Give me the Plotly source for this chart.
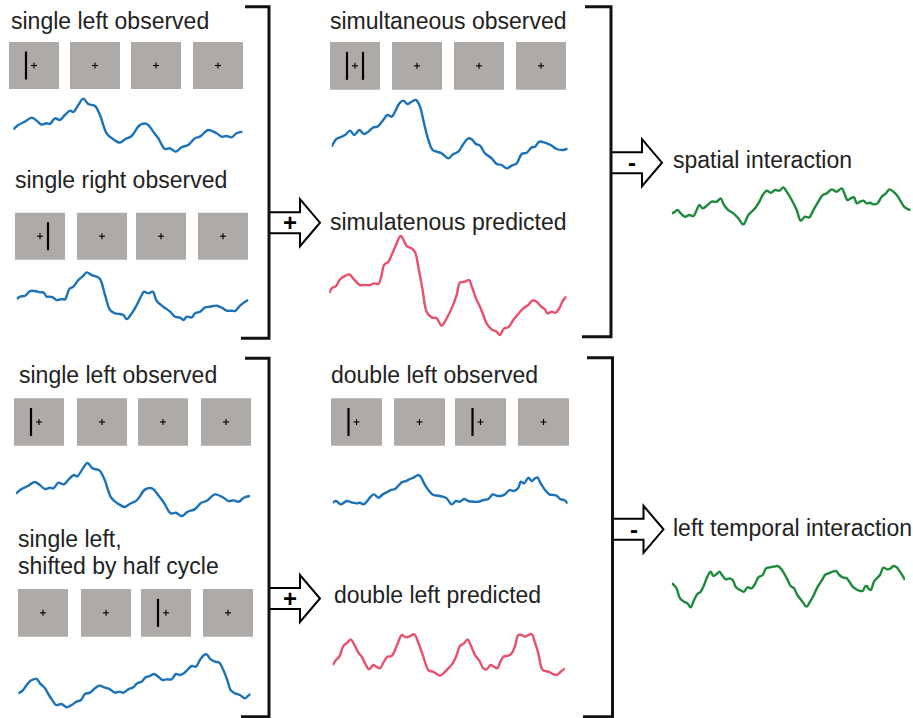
import plotly.graph_objects as go

W, H = 913, 718
FONT = "Liberation Sans, Arial, Helvetica, sans-serif"
TEXT_COLOR = "#222222"
BLUE, PINK, GREEN = "#1b72b8", "#e9506c", "#1d8a3b"
SQUARE_GRAY = "#aeaaa7"

# ---------------------------------------------------------------------------
# Stimulus sequences: one stimulation cycle = 4 frames.
# "L" = bar left of fixation, "R" = bar right of fixation, "" = fixation only
# ---------------------------------------------------------------------------
single_left_frames = ["L", "", "", ""]
single_right_frames = ["R", "", "", ""]
simultaneous_frames = ["LR", "", "", ""]
shifted_left_frames = ["", "", "L", ""]
double_left_frames = ["L", "", "L", ""]

# ---------------------------------------------------------------------------
# Responses over one cycle (time in samples, amplitude in arbitrary units)
# ---------------------------------------------------------------------------
single_left_t = [0, 15, 35, 55, 70, 85, 100, 110, 125, 140, 155, 170, 180, 195, 210, 225, 245, 260, 280, 300,
                 320, 335, 355, 380, 400, 420, 435, 455, 470, 487, 505, 525, 545, 560, 585, 610, 625, 640, 655,
                 670, 688]
single_left_v = [72, 85, 95, 107, 98, 86, 90, 88, 105, 100, 115, 128, 124, 145, 164, 148, 142, 115, 60, 42,
                 32, 42, 52, 85, 88, 65, 45, 13, 15, 5, 18, 25, 45, 50, 70, 60, 50, 52, 48, 60, 65]

single_right_t = [0, 10, 25, 40, 55, 70, 80, 90, 100, 110, 120, 135, 145, 158, 170, 185, 200, 210, 225, 240,
                  250, 265, 280, 295, 310, 320, 330, 345, 360, 375, 382, 395, 408, 420, 440, 460, 475, 490, 500,
                  510, 525, 535, 550, 565, 580, 600, 615, 630, 645, 655, 670, 685, 695]
single_right_v = [68, 75, 78, 92, 92, 88, 88, 75, 75, 72, 65, 68, 67, 98, 105, 125, 138, 148, 140, 135,
                  128, 80, 35, 25, 23, 20, 8, 25, 50, 80, 90, 85, 90, 62, 45, 30, 15, 12, 5, 15,
                  13, 25, 30, 43, 45, 48, 42, 33, 33, 32, 48, 60, 65]

simultaneous_obs_t = [0, 13, 25, 40, 55, 68, 83, 97, 110, 125, 137, 153, 167, 180, 190, 203, 215, 227, 240, 253,
                      265, 277, 290, 303, 315, 330, 350, 365, 380, 395, 410, 420, 433, 445, 460, 480, 495, 510,
                      525, 540, 555, 570, 585, 600, 610, 623, 640, 660, 675, 695, 708]
simultaneous_obs_v = [70, 92, 98, 105, 118, 105, 120, 108, 115, 128, 130, 148, 165, 160, 175, 200, 208, 198, 205,
                      210, 190, 140, 90, 60, 55, 50, 35, 48, 55, 78, 95, 92, 78, 73, 50, 35, 18, 15, 5, 13,
                      20, 48, 52, 68, 70, 85, 82, 73, 63, 60, 64]

simultaneous_pred_t = [0, 7, 20, 32, 47, 60, 74, 92, 107, 122, 134, 147, 157, 164, 177, 187, 200, 214, 224, 232,
                       247, 257, 267, 280, 292, 307, 322, 337, 352, 367, 382, 392, 407, 420, 427, 440, 452, 462,
                       472, 487, 502, 512, 524, 537, 552, 567, 582, 597, 609, 622, 634, 647, 654, 667, 679, 690,
                       702, 712]
simultaneous_pred_v = [130, 145, 152, 172, 182, 187, 172, 155, 155, 155, 160, 158, 185, 215, 225, 245, 275, 302,
                       288, 272, 265, 255, 210, 140, 75, 58, 55, 33, 55, 85, 125, 162, 165, 170, 152, 115, 90,
                       65, 40, 22, 15, 5, 25, 28, 50, 68, 85, 95, 108, 105, 92, 82, 70, 75, 72, 85, 110, 120]

spatial_int_t = [0, 7, 17, 27, 40, 53, 65, 75, 83, 93, 105, 120, 135, 147, 157, 170, 185, 200, 215, 230,
                 250, 263, 273, 285, 297, 310, 323, 335, 345, 360, 375, 387, 400, 413, 425, 440, 453, 465, 480,
                 495, 510, 520, 527, 537, 547, 555, 565, 575, 585, 595, 605, 617, 630, 643, 653, 665, 675, 685,
                 697, 710, 717]
spatial_int_v = [40, 43, 50, 40, 30, 35, 32, 50, 65, 55, 63, 75, 75, 85, 65, 50, 40, 25, 7, 35,
                 55, 75, 95, 108, 102, 110, 108, 118, 105, 80, 50, 18, 30, 28, 50, 75, 95, 100, 112, 105,
                 115, 95, 80, 85, 88, 70, 75, 78, 70, 72, 67, 70, 90, 100, 112, 105, 95, 80, 60, 52, 50]

shifted_left_t = [0, 13, 25, 37, 55, 65, 80, 90, 103, 113, 130, 145, 160, 175, 188, 200, 215, 230, 243, 260,
                  275, 290, 303, 315, 330, 345, 357, 370, 382, 395, 407, 420, 433, 445, 460, 473, 485, 497, 510,
                  520, 533, 545, 557, 565, 577, 590, 603, 615, 627, 637, 650, 665, 680, 690, 697]
shifted_left_v = [50, 58, 75, 88, 93, 80, 65, 48, 28, 15, 18, 8, 15, 25, 30, 48, 52, 65, 73, 67,
                  62, 52, 55, 52, 62, 68, 80, 85, 98, 102, 108, 100, 90, 92, 92, 108, 105, 110, 123, 132,
                  130, 150, 165, 167, 152, 145, 142, 120, 90, 60, 50, 45, 35, 43, 48]

double_obs_t = [0, 10, 24, 42, 57, 72, 82, 92, 102, 114, 124, 137, 150, 162, 174, 187, 197, 207, 220, 232,
                244, 257, 264, 274, 287, 302, 317, 330, 342, 357, 370, 382, 394, 407, 422, 437, 452, 467, 480,
                492, 507, 517, 530, 544, 557, 564, 574, 587, 597, 607, 614, 624, 637, 650, 662, 672, 682, 694,
                705]
double_obs_v = [12, 17, 7, 17, 13, 10, 12, 7, 15, 30, 37, 27, 37, 43, 50, 53, 63, 73, 77, 83,
                88, 95, 90, 70, 50, 35, 33, 30, 25, 7, 17, 15, 23, 17, 15, 15, 20, 23, 37, 33,
                33, 37, 50, 47, 57, 75, 70, 87, 77, 85, 88, 70, 50, 37, 35, 33, 23, 20, 10]

double_pred_t = [0, 10, 20, 32, 44, 54, 64, 77, 87, 97, 109, 122, 134, 142, 152, 164, 177, 187, 197, 207,
                 220, 232, 245, 257, 272, 287, 300, 312, 322, 332, 347, 360, 370, 382, 394, 405, 414, 427, 440,
                 452, 462, 474, 484, 494, 502, 512, 527, 537, 547, 557, 567, 577, 587, 597, 607, 617, 630, 647,
                 662, 672, 684, 697]
double_pred_v = [35, 50, 60, 92, 102, 112, 98, 72, 60, 40, 22, 35, 28, 25, 42, 60, 62, 80, 105, 125,
                 118, 122, 127, 102, 60, 20, 15, 8, 3, 10, 25, 40, 60, 92, 100, 112, 95, 65, 48, 25,
                 22, 35, 30, 25, 42, 60, 63, 70, 92, 125, 125, 120, 125, 128, 102, 70, 20, 15, 8, 5, 15, 25]

temporal_int_t = [0, 13, 25, 37, 47, 57, 67, 77, 87, 97, 107, 117, 125, 135, 143, 153, 163, 173, 183, 193,
                  205, 217, 227, 240, 250, 260, 273, 283, 295, 307, 317, 327, 337, 347, 357, 367, 377, 390, 405,
                  415, 425, 437, 450, 460, 470, 483, 493, 503, 513, 525, 533, 543, 553, 563, 573, 580, 585, 590,
                  597, 607, 615, 625, 635, 647, 657, 665, 675, 685, 700]
temporal_int_v = [80, 68, 35, 25, 20, 8, 30, 48, 55, 75, 100, 115, 102, 108, 115, 102, 92, 95, 90, 68,
                  60, 55, 68, 65, 78, 98, 105, 125, 128, 130, 132, 125, 110, 92, 72, 65, 45, 28, 10, 25,
                  42, 68, 88, 105, 110, 115, 117, 105, 98, 95, 85, 70, 63, 58, 57, 70, 72, 65, 60, 85,
                  95, 105, 127, 122, 125, 132, 128, 115, 90]

# Text labels
labels = [
    "single left observed", "single right observed", "simultaneous observed", "simulatenous predicted",
    "spatial interaction", "single left observed", "single left,", "shifted by half cycle",
    "double left observed", "double left predicted", "left temporal interaction",
]
signs = ["+", "-", "+", "-"]

# ---------------------------------------------------------------------------
# Layout helpers (pixel positions -> paper coordinates)
# ---------------------------------------------------------------------------
def px(x):
    return x / W


def py(y):
    return 1 - y / H


AMP_PER_PX = 3.0  # amplitude units per pixel, same for all traces

fig = go.Figure()
shapes, annotations = [], []
layout_axes = {}

trace_specs = [
    # (t, v, colour, left, baseline, width)
    (single_left_t, single_left_v, BLUE, 13.3, 153.3, 229.3),
    (single_right_t, single_right_v, BLUE, 16.7, 321.7, 231.7),
    (simultaneous_obs_t, simultaneous_obs_v, BLUE, 331.7, 170.0, 236.0),
    (simultaneous_pred_t, simultaneous_pred_v, PINK, 329.3, 336.7, 237.3),
    (spatial_int_t, spatial_int_v, GREEN, 671.7, 226.7, 239.0),
    (single_left_t, single_left_v, BLUE, 16.0, 517.7, 234.0),
    (shifted_left_t, shifted_left_v, BLUE, 18.3, 710.0, 232.3),
    (double_obs_t, double_obs_v, BLUE, 332.7, 506.7, 235.0),
    (double_pred_t, double_pred_v, PINK, 332.7, 676.7, 232.3),
    (temporal_int_t, temporal_int_v, GREEN, 671.7, 610.0, 233.3),
]

for i, (t, v, color, left, base, width) in enumerate(trace_specs, start=1):
    top_val = max(v) + 12
    height = top_val / AMP_PER_PX
    xa, ya = ("x" if i == 1 else f"x{i}"), ("y" if i == 1 else f"y{i}")
    fig.add_trace(go.Scatter(
        x=t, y=v, mode="lines", xaxis=xa, yaxis=ya,
        line=dict(color=color, width=2.4, shape="spline", smoothing=1.0),
        hoverinfo="skip", showlegend=False,
    ))
    kx = "xaxis" if i == 1 else f"xaxis{i}"
    ky = "yaxis" if i == 1 else f"yaxis{i}"
    layout_axes[kx] = dict(domain=[px(left), px(left + width)], range=[0, t[-1]], visible=False,
                           anchor=ya, fixedrange=True)
    layout_axes[ky] = dict(domain=[py(base), py(base - height)], range=[0, top_val], visible=False,
                           anchor=xa, fixedrange=True)

# ---------------------------------------------------------------------------
# Stimulus frames: grey squares with fixation cross and bars
# ---------------------------------------------------------------------------
frame_rows = [
    # (frames, square lefts, top, width, height)
    (single_left_frames, [9, 70, 131, 193], 42.0, 50, 47),
    (single_right_frames, [15, 77, 136, 198], 212.7, 50, 47),
    (simultaneous_frames, [330, 392, 454, 516], 42.0, 50, 47.7),
    (single_left_frames, [14, 77, 138, 201], 398.3, 50, 47.4),
    (shifted_left_frames, [18, 81, 141, 203], 589.0, 50, 47.7),
    (double_left_frames, [331, 394, 455, 518], 398.3, 51, 47.4),
]


def line(x0, y0, x1, y1, width, color="black"):
    return dict(type="line", xref="paper", yref="paper", x0=px(x0), y0=py(y0), x1=px(x1), y1=py(y1),
                line=dict(color=color, width=width), layer="above")


for frames, lefts, top, sw, sh in frame_rows:
    for frame, left in zip(frames, lefts):
        shapes.append(dict(type="rect", xref="paper", yref="paper", x0=px(left), x1=px(left + sw),
                           y0=py(top + sh), y1=py(top), fillcolor=SQUARE_GRAY, line=dict(width=0),
                           layer="below"))
        cx, cy = left + sw / 2, top + sh / 2
        shapes.append(line(cx - 3, cy, cx + 3, cy, 1.1))
        shapes.append(line(cx, cy - 3, cx, cy + 3, 1.1))
        if "L" in frame:
            shapes.append(line(cx - 8, cy - 14, cx - 8, cy + 14, 2.2))
        if "R" in frame:
            shapes.append(line(cx + 8, cy - 14, cx + 8, cy + 14, 2.2))


def path(points, closed=False):
    s = "M " + " L ".join(f"{px(x):.5f},{py(y):.5f}" for x, y in points)
    return s + (" Z" if closed else "")


# Block arrows (+ / -) leaving the brackets
arrow_specs = [(269, 222.7), (611, 162.7), (269, 598.5), (612.5, 529.3)]
for (xb, c), sign in zip(arrow_specs, signs):
    pts = [(xb, c - 10.5), (xb + 31, c - 10.5), (xb + 31, c - 23.5), (xb + 51, c),
           (xb + 31, c + 23.5), (xb + 31, c + 10.5), (xb, c + 10.5)]
    shapes.append(dict(type="path", xref="paper", yref="paper", path=path(pts, closed=True),
                       fillcolor="white", line=dict(color="black", width=2), layer="above"))
    annotations.append(dict(x=px(xb + 21), y=py(c), xref="paper", yref="paper", text=f"<b>{sign}</b>",
                            showarrow=False, xanchor="center", yanchor="middle",
                            font=dict(family=FONT, size=24, color="black")))

# Brackets
bracket_specs = [
    # (top-left x, top y, vertical x, bottom y, bottom-left x)
    (245, 6.7, 269, 338.3, 241),
    (585, 6.7, 611, 336.7, 582),
    (245, 358.3, 269, 716.7, 241),
    (587, 357.7, 612.5, 716.7, 583),
]
for xt, yt, xv, yb, xbm in bracket_specs:
    shapes.append(dict(type="path", xref="paper", yref="paper",
                       path=path([(xt, yt), (xv, yt), (xv, yb), (xbm, yb)]),
                       line=dict(color="#111111", width=3), layer="above"))

# Text labels (left edge, vertical centre)
label_pos = [
    (10, 21), (14, 179.7), (329.3, 21.3), (329.3, 222), (671.7, 159.7), (18, 375),
    (16.7, 538.7), (16.7, 566), (330, 375.3), (332.7, 595.3), (671.7, 528),
]
for text, (x, y) in zip(labels, label_pos):
    annotations.append(dict(x=px(x - 1), y=py(y), xref="paper", yref="paper", text=text, showarrow=False,
                            xanchor="left", yanchor="middle",
                            font=dict(family=FONT, size=23, color=TEXT_COLOR)))

fig.update_layout(
    width=W, height=H, margin=dict(l=0, r=0, t=0, b=0),
    paper_bgcolor="white", plot_bgcolor="rgba(0,0,0,0)",
    shapes=shapes, annotations=annotations, showlegend=False,
    **layout_axes,
)

fig.write_html("out.html", config={"displayModeBar": False})
